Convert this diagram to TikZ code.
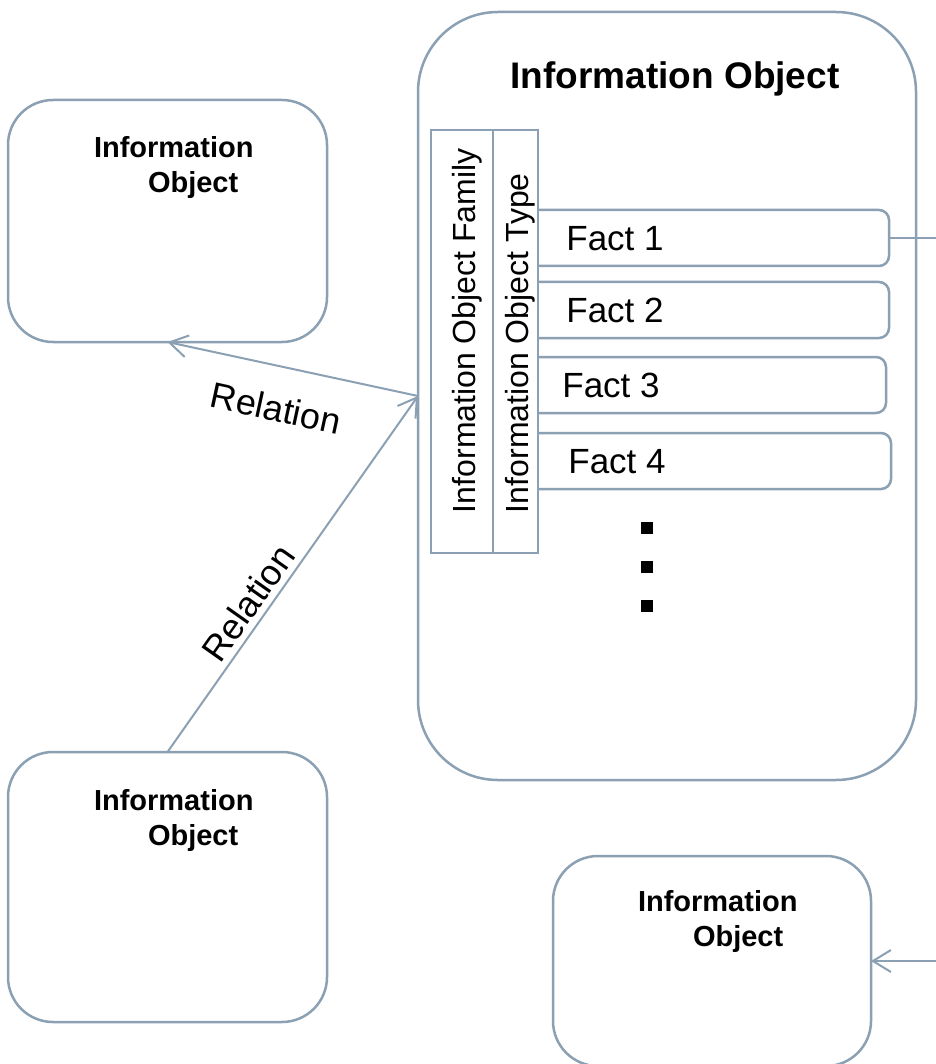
\documentclass[tikz,border=0pt]{standalone}
\usepackage{fontspec}
\setmainfont{Liberation Sans}
\usetikzlibrary{arrows.meta}
\definecolor{edge}{RGB}{139,160,178}
\begin{document}
\begin{tikzpicture}[x=1pt,y=-1pt,
  every node/.style={inner sep=0pt, outer sep=0pt},
  objbox/.style={draw=edge, line width=2.5pt, rounded corners=#1, fill=white},
  column/.style={draw=edge, line width=2.5pt, fill=white, minimum width=#1, minimum height=423pt},
  factbox/.style={draw=edge, line width=2.5pt, rounded corners=10pt, minimum height=56pt},
  conn/.style={draw=edge, line width=2pt},
  arrowed/.style={conn, -{Straight Barb[length=18pt, width=22pt, line width=2pt]}},
  titletext/.style={font=\fontsize{37}{44}\selectfont\bfseries, anchor=base},
  smalltitle/.style={font=\fontsize{29}{35}\selectfont\bfseries, anchor=base west},
  facttext/.style={font=\fontsize{35}{42}\selectfont, anchor=base},
  coltext/.style={font=\fontsize{32}{38}\selectfont, rotate=90, anchor=base west},
  reltext/.style={font=\fontsize{36}{43}\selectfont}
]
\useasboundingbox (0,0) rectangle (935,1064);

% central information object
\node[objbox=80pt, minimum width=498pt, minimum height=768pt] (big) at (667,396) {};
\node[titletext] (bigtitle) at (675,89) {Information Object};

% fact rows (their left ends are hidden behind the columns)
\node[factbox, minimum width=369pt] (f1) at (704.5,238) {};
\node[factbox, minimum width=369pt] (f2) at (704.5,310) {};
\node[factbox, minimum width=366pt] (f3) at (703,385) {};
\node[factbox, minimum width=371pt] (f4) at (705.5,461) {};

% family and type columns
\node[column=62pt] (family) at (462,341.5) {};
\node[column=45pt] (type) at (515.5,341.5) {};
\node[coltext] (familytext) at (475,513) {Information Object Family};
\node[coltext] (typetext) at (528,513) {Information Object Type};

\node[facttext] (f1t) at (615,250.5) {Fact 1};
\node[facttext] (f2t) at (615,322.5) {Fact 2};
\node[facttext] (f3t) at (611,397.5) {Fact 3};
\node[facttext] (f4t) at (617,473.5) {Fact 4};

% continuation dots
\fill (641,522) rectangle (653,534);
\fill (641,561) rectangle (653,573);
\fill (641,600) rectangle (653,612);

% related information objects
\node[objbox=45pt, minimum width=319pt, minimum height=242pt] (tl) at (167.5,221) {};
\node[smalltitle] (tlt1) at (94,157.5) {Information};
\node[smalltitle] (tlt2) at (148,192.5) {Object};

\node[objbox=45pt, minimum width=319pt, minimum height=270pt] (bl) at (167.5,887) {};
\node[smalltitle] (blt1) at (94,810.5) {Information};
\node[smalltitle] (blt2) at (148,845.5) {Object};

\node[objbox=45pt, minimum width=318pt, minimum height=210pt] (br) at (712,961) {};
\node[smalltitle] (brt1) at (638,911.5) {Information};
\node[smalltitle] (brt2) at (693,946.5) {Object};

% relations
\draw[arrowed] (big.west) -- (tl.south);
\draw[arrowed] (bl.north) -- (big.west);
\node[reltext, rotate=-12.2] (rel1) at (276,408) {Relation};
\node[reltext, rotate=54.8] (rel2) at (248,603) {Relation};

% links leaving the picture
\coordinate (out1) at (945,238);
\coordinate (in1) at (945,961);
\draw[conn] (f1.east) -- (out1);
\draw[arrowed] (in1) -- (br.east);
\end{tikzpicture}
\end{document}
